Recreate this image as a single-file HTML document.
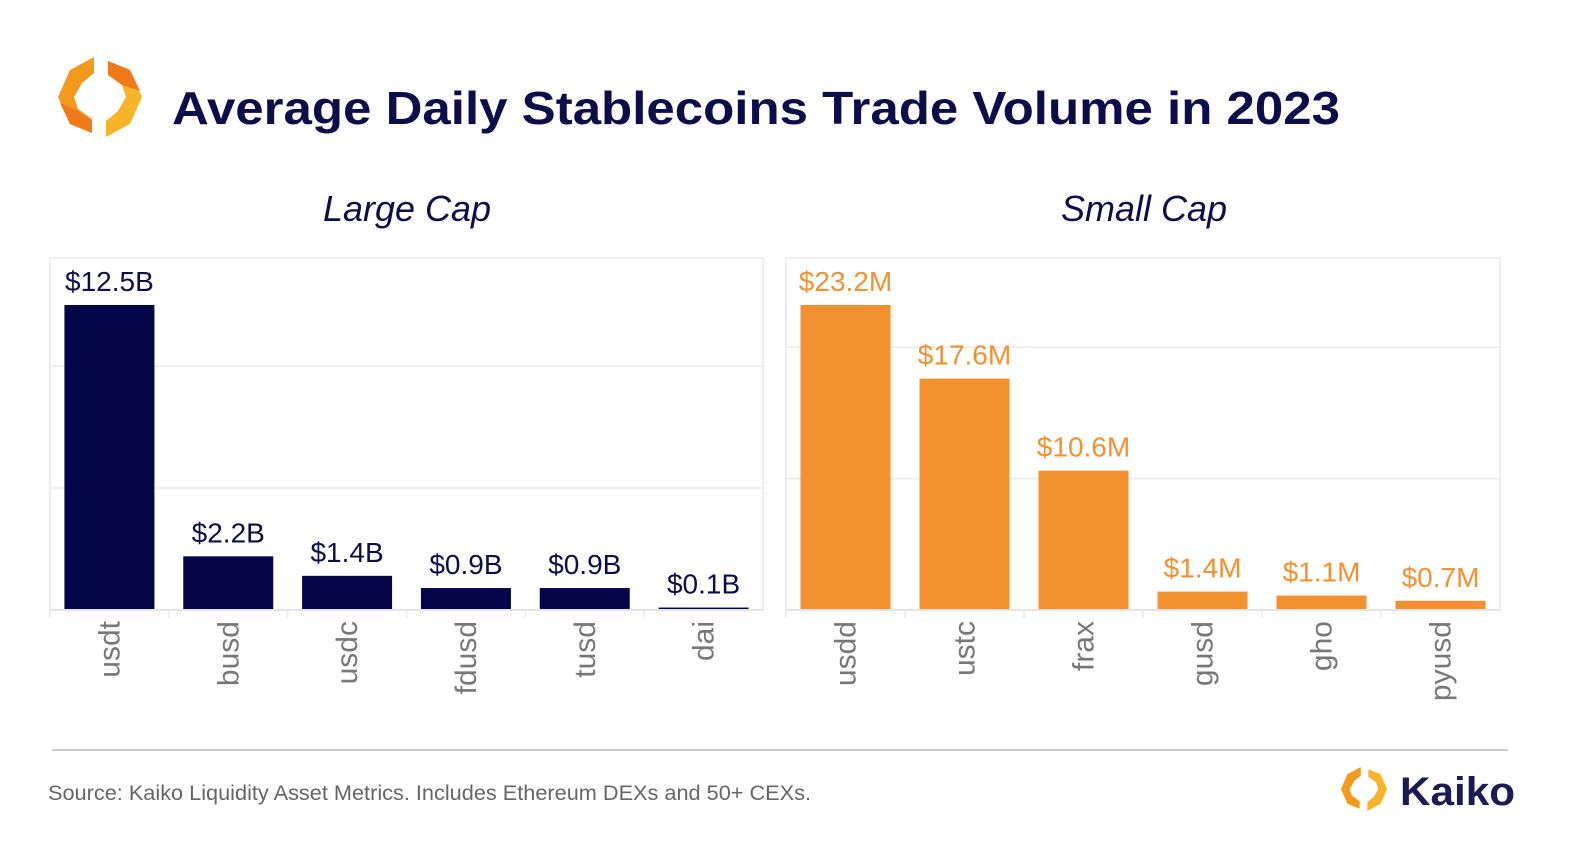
<!DOCTYPE html>
<html><head><meta charset="utf-8"><style>
body{margin:0;background:#fff;width:1581px;height:850px;overflow:hidden;font-family:"Liberation Sans",sans-serif}
</style></head><body>
<svg id="c" width="1581" height="850" xmlns="http://www.w3.org/2000/svg">
<g transform="translate(100,97)">
<path d="M-6,-40 L-30,-27 L-42,0 L-30,27 L-8,36 L-8,22 L-22,12 L-26,0 L-18,-14 L-6,-24 Z" fill="#f39a1d"/>
<path d="M-40,6 L-30,27 L-8,36 L-8,24 L-22,14 Z" fill="#f07a1a"/>
<path d="M6,40 L30,27 L42,0 L30,-27 L8,-36 L8,-22 L22,-12 L26,0 L18,14 L6,24 Z" fill="#f6b42a"/>
<path d="M8,-36 L30,-27 L40,-6 L22,-12 L8,-22 Z" fill="#f07a1a"/>
</g>
<text x="172" y="124" font-size="46" font-weight="bold" fill="#0d0d4a" textLength="1168" lengthAdjust="spacingAndGlyphs">Average Daily Stablecoins Trade Volume in 2023</text>
<text x="407" y="221" text-anchor="middle" font-size="36" font-style="italic" fill="#0d0d4a">Large Cap</text>
<text x="1144" y="221" text-anchor="middle" font-size="36" font-style="italic" fill="#0d0d4a">Small Cap</text>
<g id="p1"></g><g id="p2"></g>
<line x1="52" y1="750" x2="1508" y2="750" stroke="#ccc" stroke-width="2"/>
<text x="48" y="800" font-size="21" fill="#666" textLength="763" lengthAdjust="spacingAndGlyphs">Source: Kaiko Liquidity Asset Metrics. Includes Ethereum DEXs and 50+ CEXs.</text>
<g transform="translate(1364,789) scale(0.55)">
<path d="M-6,-40 L-30,-27 L-42,0 L-30,27 L-8,36 L-8,22 L-22,12 L-26,0 L-18,-14 L-6,-24 Z" fill="#f39a1d"/>
<path d="M6,40 L30,27 L42,0 L30,-27 L8,-36 L8,-22 L22,-12 L26,0 L18,14 L6,24 Z" fill="#f6b42a"/>
</g>
<text x="1400" y="805" font-size="40" font-weight="bold" fill="#1a1a55" textLength="115" lengthAdjust="spacingAndGlyphs">Kaiko</text>
</svg>
<script>
const largeCats=["usdt","busd","usdc","fdusd","tusd","dai"];
const largeVals=[12.5,2.2,1.4,0.9,0.9,0.1];
const largeLabels=["$12.5B","$2.2B","$1.4B","$0.9B","$0.9B","$0.1B"];
const largeTicks=[5,10];
const smallCats=["usdd","ustc","frax","gusd","gho","pyusd"];
const smallVals=[23.2,17.6,10.6,1.4,1.1,0.7];
const smallLabels=["$23.2M","$17.6M","$10.6M","$1.4M","$1.1M","$0.7M"];
const smallTicks=[10,20];
const NS="http://www.w3.org/2000/svg";
function mk(p,t,a){const e=document.createElementNS(NS,t);for(const k in a)e.setAttribute(k,a[k]);p.appendChild(e);return e;}
function panel(id,x0,x1,cats,vals,labels,ticks,max,color,lcol){
 const g=document.getElementById(id);
 const top=258,base=610,plotTop=305;
 const y=v=>base-(v/max)*(base-plotTop);
 const band=(x1-x0)/cats.length;
 const f=mk(g,'rect',{x:x0,y:top,width:x1-x0,height:base-top,fill:'none',stroke:'#eee','stroke-width':2});
 
 
 ticks.forEach(t=>{const l=mk(g,'line',{x1:x0,x2:x1,y1:y(t),y2:y(t),stroke:'#eee','stroke-width':2});
  
  });
 cats.forEach((c,i)=>{
  const cx=x0+band*(i+0.5);
  const r=mk(g,'rect',{x:cx-45,y:y(vals[i]),width:90,height:Math.max(1.5,base-y(vals[i])),fill:color});
  
  
  const v=mk(g,'text',{x:cx,y:y(vals[i])-14,'text-anchor':'middle','font-size':28,fill:lcol});v.textContent=labels[i];
  
  
  const tk=mk(g,'line',{x1:x0+band*i,x2:x0+band*i,y1:base,y2:base+8,stroke:'#eee','stroke-width':2});
  
  
  const t=mk(g,'text',{x:0,y:0,transform:`translate(${cx+10},621) rotate(-90)`,'text-anchor':'end','font-size':30,fill:'#777'});t.textContent=c;
  
  
 });
 const bl=mk(g,'line',{x1:x0,x2:x1,y1:base,y2:base,stroke:'#e4e4e4','stroke-width':2});
 
 
}
panel('p1',50,763,largeCats,largeVals,largeLabels,largeTicks,12.5,'#05054a','#0d0d4a');
panel('p2',786,1500,smallCats,smallVals,smallLabels,smallTicks,23.2,'#f39130','#f39130');
</script>
</body></html>
